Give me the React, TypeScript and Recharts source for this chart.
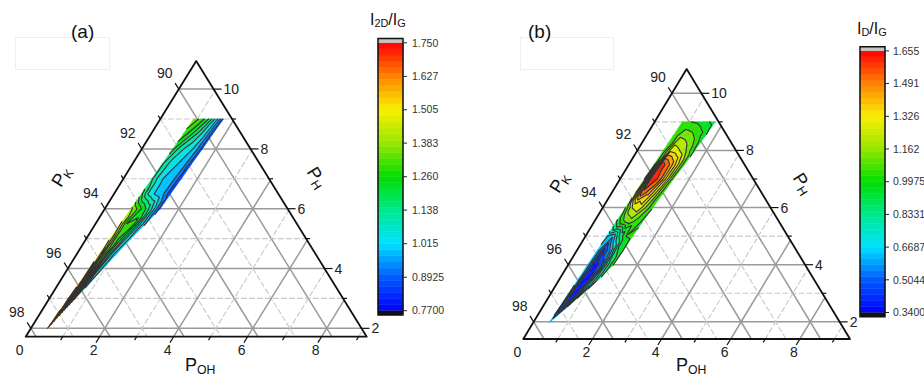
import React from "react"
import { ComposedChart, Scatter, XAxis, YAxis, ReferenceArea } from "recharts"

// rows of the measured band, P_H (%)
const rowsH = [2, 2.5, 3, 3.5, 4, 4.5, 5, 5.5, 6, 6.5, 7, 7.5, 8, 8.5, 9]

// (a) I2D/IG : P_OH at the left and right edge of the band, ratio across the band (left -> right)
const aLeftOH = [0.45, 0.48, 0.51, 0.55, 0.58, 0.61, 0.64, 0.67, 0.71, 0.74, 0.77, 0.8, 0.84, 0.87, 0.9]
const aRightOH = [0.45, 0.57, 0.7, 0.83, 0.95, 1.08, 1.21, 1.36, 1.5, 1.53, 1.57, 1.6, 1.64, 1.67, 1.71]
const aRatio = [
  [1.72, 1.72, 1.72, 1.72, 1.72],
  [1.7, 1.64, 1.56, 1.46, 1.4],
  [1.65, 1.5, 1.32, 1.16, 1.05],
  [1.62, 1.45, 1.25, 1.1, 1.0],
  [1.58, 1.4, 1.22, 1.06, 0.99],
  [1.55, 1.36, 1.2, 1.05, 0.97],
  [1.5, 1.32, 1.22, 1.08, 0.98],
  [1.45, 1.26, 1.3, 1.1, 0.95],
  [1.4, 1.3, 1.2, 1.05, 0.86],
  [1.22, 1.06, 1.0, 0.96, 0.84],
  [1.15, 1.04, 0.99, 0.96, 0.84],
  [1.15, 1.06, 1.02, 0.98, 0.85],
  [1.22, 1.1, 1.05, 1.0, 0.86],
  [1.3, 1.22, 1.12, 1.02, 0.86],
  [1.36, 1.3, 1.2, 1.05, 0.86],
]

// (b) ID/IG
const bLeftOH = [0.47, 0.49, 0.52, 0.54, 0.56, 0.59, 0.61, 0.63, 0.66, 0.68, 0.7, 0.73, 0.75, 0.78, 0.8]
const bRightOH = [0.47, 0.7, 0.93, 1.15, 1.31, 1.34, 1.37, 1.4, 1.45, 1.5, 1.55, 1.61, 1.66, 1.71, 1.76]
const bRatio = [
  [0.64, 0.64, 0.64, 0.64, 0.64],
  [0.7, 0.5, 0.42, 0.5, 0.66],
  [0.68, 0.4, 0.36, 0.55, 0.8],
  [0.66, 0.36, 0.4, 0.7, 0.9],
  [0.66, 0.36, 0.45, 0.8, 1.0],
  [0.66, 0.4, 0.6, 0.9, 1.0],
  [0.68, 0.6, 0.85, 1.0, 1.02],
  [0.9, 1.06, 1.12, 1.05, 0.98],
  [1.0, 1.25, 1.3, 1.15, 1.0],
  [1.12, 1.55, 1.42, 1.22, 1.0],
  [1.08, 1.65, 1.55, 1.3, 1.02],
  [1.04, 1.63, 1.5, 1.28, 1.02],
  [1.0, 1.3, 1.25, 1.15, 0.98],
  [1.0, 1.15, 1.12, 1.05, 0.92],
  [1.0, 1.0, 0.98, 0.93, 0.88],
]

const aBarLabels = ["1.750", "1.627", "1.505", "1.383", "1.260", "1.138", "1.015", "0.8925", "0.7700"]
const bBarLabels = ["1.655", "1.491", "1.326", "1.162", "0.9975", "0.8331", "0.6687", "0.5044", "0.3400"]

const kTicks = [90, 91, 92, 93, 94, 95, 96, 97, 98]
const hTicks = [2, 3, 4, 5, 6, 7, 8, 9, 10]
const ohTicks = [0, 1, 2, 3, 4, 5, 6, 7, 8, 9]

const FONT = '"Liberation Sans", Arial, sans-serif'
const W = 462
const H = 380

// pixel frame of each triangle inside its chart
const panelA = { hMin: 1.72, span: 9.22, left: 25.7, right: 366.7, base: 336.7, apex: 61 }
const panelB = { hMin: 1.4, span: 9.45, left: 61.3, right: 388, base: 339, apex: 69 }

const jet = [
  [0, 0, 255],
  [0, 90, 255],
  [0, 225, 255],
  [0, 232, 140],
  [0, 222, 0],
  [150, 230, 0],
  [250, 240, 0],
  [255, 130, 0],
  [255, 0, 0],
]

function cmap(t: number) {
  const u = Math.max(0, Math.min(1, t)) * (jet.length - 1)
  const i = Math.min(jet.length - 2, Math.floor(u))
  const f = u - i
  const c = jet[i].map((v, j) => Math.round(v + (jet[i + 1][j] - v) * f))
  return `rgb(${c[0]},${c[1]},${c[2]})`
}

type XY = { x: number; y: number }
type Node = XY & { v: number }
type Poly = { pts: XY[]; fill?: string; stroke?: string; sw?: number; dash?: string; close?: boolean; pairs?: boolean }

function clip(poly: Node[], level: number, above: boolean) {
  const out: Node[] = []
  for (let i = 0; i < poly.length; i++) {
    const a = poly[i]
    const b = poly[(i + 1) % poly.length]
    const ina = above ? a.v >= level : a.v <= level
    const inb = above ? b.v >= level : b.v <= level
    if (ina) out.push(a)
    if (ina !== inb) {
      const t = (level - a.v) / (b.v - a.v)
      out.push({ x: a.x + t * (b.x - a.x), y: a.y + t * (b.y - a.y), v: level })
    }
  }
  return out
}

function contours(grid: Node[][], vmin: number, vmax: number): Poly[] {
  const nb = 16
  const step = (vmax - vmin) / nb
  const tris: Node[][] = []
  for (let r = 0; r < grid.length - 1; r++) {
    for (let c = 0; c < grid[r].length - 1; c++) {
      const a = grid[r][c], b = grid[r][c + 1], d = grid[r + 1][c + 1], e = grid[r + 1][c]
      tris.push([a, b, d], [a, d, e])
    }
  }
  const fills: Poly[] = []
  const segs: XY[] = []
  tris.forEach((tri) => {
    for (let k = 0; k < nb; k++) {
      let poly = tri
      if (k > 0) poly = clip(poly, vmin + k * step, true)
      if (k < nb - 1) poly = clip(poly, vmin + (k + 1) * step, false)
      if (poly.length >= 3) {
        const col = cmap((k + 0.5) / nb)
        fills.push({ pts: poly.map((p) => ({ x: p.x, y: p.y })), fill: col, stroke: col, sw: 0.4, close: true })
      }
    }
    for (let j = 1; j < nb; j++) {
      const lv = vmin + j * step
      const hit: XY[] = []
      for (let i = 0; i < 3; i++) {
        const p = tri[i], q = tri[(i + 1) % 3]
        if (p.v < lv !== q.v < lv) {
          const t = (lv - p.v) / (q.v - p.v)
          hit.push({ x: p.x + t * (q.x - p.x), y: p.y + t * (q.y - p.y) })
        }
      }
      if (hit.length === 2) segs.push(hit[0], hit[1])
    }
  })
  return [...fills, { pts: segs, stroke: "#333", sw: 1.1, pairs: true }]
}

const noDot = () => <g />

// draws a list of polygons / polylines through the scatter's own scaled points
function polyScatter(key: string, polys: Poly[]) {
  const data = polys.flatMap((p) => p.pts)
  const draw = (props: any) => {
    const pts = props.points as XY[]
    let i = 0
    return (
      <g>
        {polys.map((p, j) => {
          const seg = pts.slice(i, i + p.pts.length)
          i += p.pts.length
          const d = seg
            .map((q, n) => `${n === 0 || (p.pairs && n % 2 === 0) ? "M" : "L"}${q.x.toFixed(2)},${q.y.toFixed(2)}`)
            .join("") + (p.close ? "Z" : "")
          return (
            <path
              key={j}
              d={d}
              fill={p.fill ?? "none"}
              stroke={p.stroke ?? "none"}
              strokeWidth={p.sw}
              strokeDasharray={p.dash}
              strokeLinejoin="round"
              strokeLinecap="round"
            />
          )
        })}
      </g>
    )
  }
  return <Scatter key={key} data={data} isAnimationActive={false} shape={noDot} line={draw} lineType="joint" />
}

const tickShape = (props: any) => {
  const { cx, cy, payload } = props
  let dx = 0, dy = 0, tx = 0, ty = 0, len = payload.major ? 7 : 4
  let anchor: "start" | "middle" = "middle"
  if (payload.side === "left") {
    dx = -0.53; dy = -0.85; tx = cx - 14; ty = cy - 11
  } else if (payload.side === "right") {
    dx = 1; dy = 0; tx = cx + 10; ty = cy + 5; anchor = "start"; len = payload.major ? 8 : 4
  } else {
    dx = -0.53; dy = 0.85; tx = cx - 6; ty = cy + 18
  }
  return (
    <g>
      {payload.tick && <line x1={cx} y1={cy} x2={cx + dx * len} y2={cy + dy * len} stroke="#111" strokeWidth={1.2} />}
      {payload.text && (
        <text x={tx} y={ty} textAnchor={anchor} fontSize={14} fill="#222" fontFamily={FONT}>
          {payload.text}
        </text>
      )}
    </g>
  )
}

function Ternary({ cfg, leftOH, rightOH, vals, vmin, vmax }: any) {
  const { hMin, span } = cfg
  const kMin = 100 - hMin - span
  const pt = (h: number, oh: number) => ({ x: oh + (h - hMin) / 2, y: h - hMin })
  const xPer = (cfg.right - cfg.left) / span
  const yPer = (cfg.base - cfg.apex) / span
  const xDomain = [-cfg.left / xPer, (W - cfg.left) / xPer]
  const yDomain = [-(H - cfg.base) / yPer, cfg.base / yPer]
  const inside = (h: number) => h > hMin && h < hMin + span

  const solid = { stroke: "#9a9a9a", sw: 1.5 }
  const dashed = { stroke: "#c9c9c9", sw: 1.1, dash: "5 3" }
  const grid: Poly[] = []
  hTicks.forEach((h) => {
    if (inside(h)) grid.push({ pts: [pt(h, 0), pt(h, 100 - kMin - h)], ...(h % 2 === 0 ? solid : dashed) })
  })
  kTicks.forEach((k) => {
    const h = 100 - k
    if (inside(h)) grid.push({ pts: [pt(h, 0), pt(hMin, 100 - k - hMin)], ...(k % 2 === 0 ? solid : dashed) })
  })
  ohTicks.forEach((o) => {
    if (o > 0 && o < span) grid.push({ pts: [pt(hMin, o), pt(100 - kMin - o, o)], ...(o % 2 === 0 ? solid : dashed) })
  })

  const band: Node[][] = rowsH.map((h, r) =>
    vals[r].map((v: number, c: number) => ({
      ...pt(h, leftOH[r] + ((rightOH[r] - leftOH[r]) * c) / (vals[r].length - 1)),
      v,
    }))
  )
  const fill = contours(band, vmin, vmax)

  const frame: Poly[] = [
    { pts: [pt(hMin, 0), pt(hMin, span), pt(hMin + span, 0)], stroke: "#111", sw: 1.8, close: true },
  ]

  const marks = [
    ...kTicks.filter((k) => inside(100 - k)).map((k) => ({
      ...pt(100 - k, 0), side: "left", major: k % 2 === 0, tick: true, text: k % 2 === 0 ? String(k) : "",
    })),
    ...hTicks.filter(inside).map((h) => ({
      ...pt(h, 100 - kMin - h), side: "right", major: h % 2 === 0, tick: true, text: h % 2 === 0 ? String(h) : "",
    })),
    ...ohTicks.filter((o) => o < span).map((o) => ({
      ...pt(hMin, o), side: "bottom", major: o % 2 === 0, tick: o > 0, text: o % 2 === 0 ? String(o) : "",
    })),
  ]

  return (
    <ComposedChart width={W} height={H} margin={{ top: 0, right: 0, bottom: 0, left: 0 }}>
      <XAxis type="number" dataKey="x" domain={xDomain} hide allowDataOverflow />
      <YAxis type="number" dataKey="y" domain={yDomain} hide allowDataOverflow />
      {polyScatter("grid", grid)}
      {polyScatter("fill", fill)}
      {polyScatter("frame", frame)}
      <Scatter data={marks} isAnimationActive={false} shape={tickShape} />
    </ComposedChart>
  )
}

function ColorBar({ vmin, vmax, labels, width, height, margin, axisW, tickMargin }: any) {
  const ext = (vmax - vmin) * 0.016
  const lo = vmin - ext
  const hi = vmax + ext
  const n = 44
  const ticks = labels.map(Number)
  const stripes = Array.from({ length: n }, (_, i) => ({
    y1: vmin + ((vmax - vmin) * i) / n,
    y2: vmin + ((vmax - vmin) * (i + 1)) / n,
    color: cmap((i + 0.5) / n),
  }))
  return (
    <ComposedChart width={width} height={height} margin={margin}>
      <XAxis type="number" dataKey="x" domain={[0, 1]} hide allowDataOverflow />
      <YAxis
        type="number"
        dataKey="y"
        orientation="right"
        domain={[lo, hi]}
        allowDataOverflow
        ticks={ticks}
        interval={0}
        tickFormatter={(v: number) => labels[ticks.indexOf(v)] ?? ""}
        axisLine={false}
        tickLine={{ stroke: "#222" }}
        tickSize={4}
        tickMargin={tickMargin}
        width={axisW}
        tick={{ fontSize: 10.5, fill: "#333", fontFamily: FONT }}
      />
      {stripes.map((s, i) => (
        <ReferenceArea key={i} y1={s.y1} y2={s.y2} fill={s.color} fillOpacity={1} stroke={s.color} strokeWidth={0.5} />
      ))}
      <ReferenceArea y1={vmax} y2={hi} fill="#c4c4c4" fillOpacity={1} />
      <ReferenceArea y1={lo} y2={vmin} fill="#111" fillOpacity={1} />
      <ReferenceArea y1={lo} y2={hi} fill="none" fillOpacity={0} stroke="#111" strokeWidth={1.5} />
      <Scatter data={[{ x: 0.5, y: vmin }]} isAnimationActive={false} shape={noDot} />
    </ComposedChart>
  )
}

const abs = (left: number, top: number, extra: React.CSSProperties = {}): React.CSSProperties => ({
  position: "absolute",
  left,
  top,
  whiteSpace: "nowrap",
  zIndex: 5,
  ...extra,
})

const subStyle: React.CSSProperties = { fontSize: "0.68em", verticalAlign: "-0.22em" }

function Rotated({ x, y, deg, children }: any) {
  return (
    <div style={abs(x, y, { fontSize: 18, transform: `translate(-50%, -50%) rotate(${deg}deg)` })}>{children}</div>
  )
}

export default function App() {
  return (
    <div
      style={{
        position: "absolute", left: 0, top: 0, width: 924, height: 380, overflow: "hidden",
        background: "#fff", fontFamily: FONT, color: "#111", lineHeight: 1.15,
      }}
    >
      <div style={abs(15, 37, { width: 95, height: 33, border: "1px solid #efefef", boxSizing: "border-box", zIndex: 0 })} />
      <div style={abs(520, 37, { width: 94, height: 33, border: "1px solid #efefef", boxSizing: "border-box", zIndex: 0 })} />

      <div style={abs(0, 0, { zIndex: 1 })}>
        <Ternary cfg={panelA} leftOH={aLeftOH} rightOH={aRightOH} vals={aRatio} vmin={0.77} vmax={1.75} />
      </div>
      <div style={abs(462, 0, { zIndex: 1 })}>
        <Ternary cfg={panelB} leftOH={bLeftOH} rightOH={bRightOH} vals={bRatio} vmin={0.34} vmax={1.655} />
      </div>

      <div style={abs(370, 30, { zIndex: 2 })}>
        <ColorBar vmin={0.77} vmax={1.75} labels={aBarLabels} width={80} height={295}
          margin={{ top: 8.5, right: 0, bottom: 10, left: 8 }} axisW={47} tickMargin={5} />
      </div>
      <div style={abs(852, 38, { zIndex: 2 })}>
        <ColorBar vmin={0.34} vmax={1.655} labels={bBarLabels} width={72} height={290}
          margin={{ top: 8.7, right: 0, bottom: 11.3, left: 8 }} axisW={39} tickMargin={4} />
      </div>

      <div style={abs(370, 11, { fontSize: 16 })}>
        I<span style={subStyle}>2D</span>/I<span style={subStyle}>G</span>
      </div>
      <div style={abs(857, 20, { fontSize: 16 })}>
        I<span style={subStyle}>D</span>/I<span style={subStyle}>G</span>
      </div>

      <div style={abs(71, 21, { fontSize: 19 })}>(a)</div>
      <div style={abs(528, 21, { fontSize: 19 })}>(b)</div>

      <Rotated x={62} y={177} deg={-58}>P<span style={subStyle}>K</span></Rotated>
      <Rotated x={316} y={178} deg={58}>P<span style={subStyle}>H</span></Rotated>
      <Rotated x={560} y={183} deg={-58}>P<span style={subStyle}>K</span></Rotated>
      <Rotated x={802} y={184} deg={58}>P<span style={subStyle}>H</span></Rotated>

      <div style={abs(185, 355, { fontSize: 18 })}>P<span style={subStyle}>OH</span></div>
      <div style={abs(676, 355, { fontSize: 18 })}>P<span style={subStyle}>OH</span></div>
    </div>
  )
}
